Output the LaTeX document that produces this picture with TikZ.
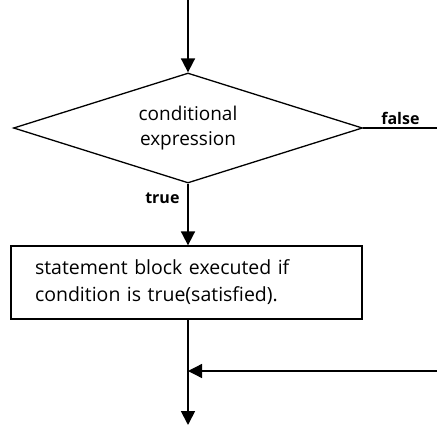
\documentclass[tikz,border=0pt]{standalone}
\usepackage{fontspec}
\setmainfont{Open Sans}
\usetikzlibrary{shapes.geometric,arrows.meta,positioning}
\tikzset{mydecision/.style={
  shape=diamond,
  draw=black,
  line width=1.3pt,
  aspect=3.17,
  minimum width=349pt,
  minimum height=110pt,
  inner sep=0pt,
  align=center,
  font=\fontsize{19}{25}\selectfont,
  }
}
\tikzset{myblock/.style={
  shape=rectangle,
  draw=black,
  line width=1.3pt,
  text width=303pt,
  inner xsep=24pt,
  minimum height=73pt,
  align=left,
  font=\fontsize{19.5}{27}\selectfont,
  }
}
\tikzset{mylabel/.style={
  font=\bfseries\fontsize{16}{18}\selectfont,
  }
}
\tikzset{myflow/.style={
  draw=black,
  line width=1.8pt,
  -{Triangle[length=14pt,width=14pt]},
  }
}

\begin{document}
\begin{tikzpicture}[x=1pt,y=-1pt]
      \useasboundingbox (0,0) rectangle (437,426);
      \coordinate (s0) at (188,0);
      \node [mydecision] (d1) at (188,128) {conditional\\expression};
      \node [myblock] (b1) at (186.5,282.5) {statement block executed if\\condition is true(satisfied).};
      \coordinate (j1) at (188,371);
      \coordinate (e1) at (188,425);
      \coordinate (f1) at (437,128);
      \coordinate (r1) at (437,371);
      \node [mylabel, above left=0pt and 14pt of f1] (lf) {false};
      \node [mylabel, below left=6pt and 5pt of d1.south] (lt) {true};

      \draw [myflow] (s0) -- (d1.north);
      \draw [myflow] (d1.south) -- (b1.north -| d1.south);
      \draw [line width=1.3pt] (d1.east) -- (f1);
      \draw [myflow] (b1.south -| j1) -- (e1);
      \draw [myflow, line width=1.3pt] (r1) -- (j1);
    \end{tikzpicture}
\end{document}
